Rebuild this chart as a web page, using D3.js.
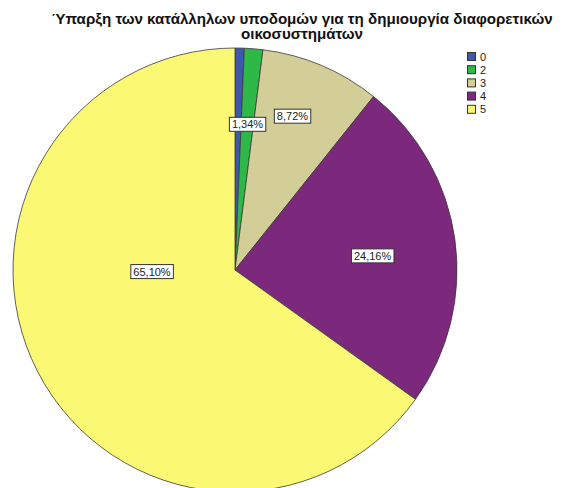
<!DOCTYPE html>
<html>
<head>
<meta charset="utf-8">
<script src="https://cdn.jsdelivr.net/npm/d3@7"></script>
<style>
  html, body { margin: 0; padding: 0; background: #fff; }
  svg { display: block; }
</style>
</head>
<body>
<svg id="chart" width="570" height="488"></svg>
<script>
// Response categories and their share of answers (%)
const categories = ["0", "2", "3", "4", "5"];
const percents = [0.67, 1.34, 8.72, 24.16, 65.10];
const sliceColors = ["#3E58AC", "#2EB848", "#D3CE97", "#7C287D", "#FBF873"];
// Which slices carry a value label
const labelled = [false, true, true, true, true];
// Label anchors in polar form: [angle in degrees clockwise from top, fraction of radius]
const labelAnchors = [null, [4.9, 0.658], [20.5, 0.739], [84.2, 0.623], [268.8, 0.374]];

const titleLines = ["Ύπαρξη των κατάλληλων υποδομών για τη δημιουργία διαφορετικών", "οικοσυστημάτων"];

const svg = d3.select("#chart");
const cx = 235, cy = 270, radius = 222;

const data = categories.map((c, i) => ({ cat: c, value: percents[i], color: sliceColors[i], i }));

const pie = d3.pie().value(d => d.value).sort(null);
const arc = d3.arc().innerRadius(0).outerRadius(radius);

const g = svg.append("g").attr("transform", `translate(${cx},${cy})`);

const arcs = pie(data);
g.selectAll("path.slice")
  .data(arcs)
  .join("path")
  .attr("class", "slice")
  .attr("d", arc)
  .attr("fill", d => d.data.color)
  .attr("stroke", "#3a3a3a")
  .attr("stroke-width", 0.8)
  .attr("stroke-linejoin", "round");

// value labels in white boxes
const fmt = v => v.toFixed(2).replace(".", ",") + "%";
arcs.forEach(d => {
  const i = d.data.i;
  if (!labelled[i]) return;
  const [deg, frac] = labelAnchors[i];
  const a = deg * Math.PI / 180;
  const x = Math.sin(a) * radius * frac;
  const y = -Math.cos(a) * radius * frac;
  const lg = g.append("g").attr("transform", `translate(${x},${y})`);
  const t = lg.append("text")
    .attr("text-anchor", "middle")
    .attr("dy", "0.35em")
    .attr("font-family", "Arial, 'Liberation Sans', sans-serif")
    .attr("font-size", 11)
    .attr("fill", "#222")
    .text(fmt(d.data.value));
  const bb = t.node().getBBox();
  lg.insert("rect", "text")
    .attr("x", bb.x - 2.5)
    .attr("y", bb.y - 1)
    .attr("width", bb.width + 5)
    .attr("height", bb.height + 2)
    .attr("fill", "#fff")
    .attr("stroke", "#333")
    .attr("stroke-width", 1);
});

// title: slightly wide bold face, two centred lines
svg.append("g")
  .attr("transform", "translate(302,0) scale(1.08,1)")
  .append("text")
  .attr("x", 0)
  .attr("y", 24.5)
  .attr("text-anchor", "middle")
  .attr("font-family", "Arial, 'Liberation Sans', sans-serif")
  .attr("font-weight", "bold")
  .attr("font-size", 14)
  .attr("fill", "#111")
  .selectAll("tspan")
  .data(titleLines)
  .join("tspan")
  .attr("x", 0)
  .attr("dy", (d, i) => i === 0 ? 0 : 15)
  .text(d => d);

// legend
const legend = svg.append("g").attr("transform", "translate(467,52)");
const rowH = 13.2;
const items = legend.selectAll("g.item")
  .data(data)
  .join("g")
  .attr("class", "item")
  .attr("transform", (d, i) => `translate(0,${i * rowH})`);
items.append("rect")
  .attr("x", 0.5).attr("y", 0.5)
  .attr("width", 8).attr("height", 8)
  .attr("fill", d => d.color)
  .attr("stroke", "#333")
  .attr("stroke-width", 1);
items.append("text")
  .attr("x", 13)
  .attr("y", 8.5)
  .attr("font-family", "Arial, 'Liberation Sans', sans-serif")
  .attr("font-size", 11)
  .attr("fill", "#222")
  .text(d => d.cat);
</script>
</body>
</html>
